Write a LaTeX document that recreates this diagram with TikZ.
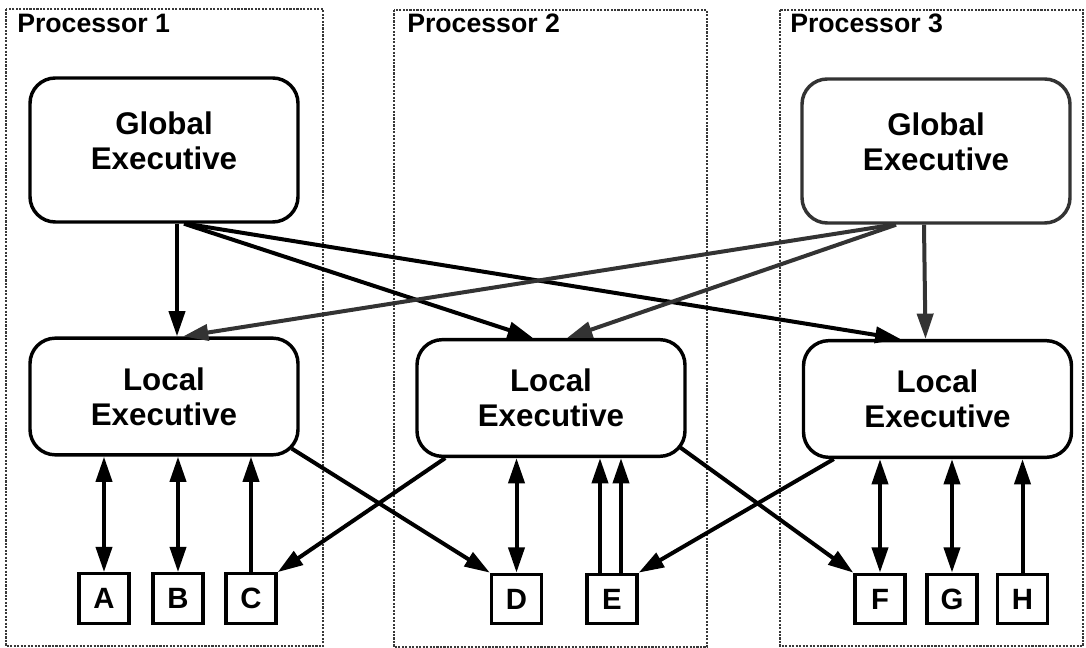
\documentclass[tikz,border=0pt]{standalone}
\usepackage{fontspec}
\setmainfont{Liberation Sans}
\usetikzlibrary{arrows.meta,calc}
\begin{document}
\begin{tikzpicture}[x=0.75pt,y=-0.75pt,
  proc/.style={draw=black!78, line width=1.6pt, densely dotted},
  proclabel/.style={font=\fontsize{20pt}{21pt}\selectfont\bfseries, anchor=west, inner sep=0pt},
  exec/.style={draw, line width=2.6pt, rounded corners=19pt, minimum width=201pt,
    align=center, font=\fontsize{23.5pt}{26pt}\selectfont\bfseries, inner sep=0pt},
  gexec/.style={exec, minimum height=108pt},
  lexec/.style={exec, minimum height=87.5pt},
  dev/.style={draw, line width=2.5pt, minimum width=37.5pt, minimum height=37pt, inner sep=0pt,
    font=\fontsize{22pt}{23pt}\selectfont\bfseries},
  tip/.tip={Triangle[length=19pt,width=12pt]},
  arr/.style={line width=3pt, -tip},
  darr/.style={line width=3pt, tip-tip},
  grey/.style={draw=black!80, color=black!80}
]
\useasboundingbox (0,0) rectangle (1086,648);

% processor boundaries
\draw[proc] (6,9) rectangle (323,646);
\draw[proc] (394,10) rectangle (707,647);
\draw[proc] (780,10) rectangle (1083,646);
\node[proclabel] (p1) at (17,23) {Processor 1};
\node[proclabel] (p2) at (407,23) {Processor 2};
\node[proclabel] (p3) at (790,23) {Processor 3};

% executives
\node[gexec] (ge1) at (164,150) {};
\node[exec, draw=none] (ge1t) at (164,141) {Global\\Executive};
\node[gexec, grey] (ge3) at (936,151) {};
\node[exec, draw=none] (ge3t) at (936,142) {Global\\Executive};
\node[lexec] (le1) at (164,396.5) {Local\\Executive};
\node[lexec] (le2) at (551,398) {Local\\Executive};
\node[lexec] (le3) at (937.5,399) {Local\\Executive};

% devices
\node[dev] (a) at (104,598.5) {A};
\node[dev] (b) at (178,598.5) {B};
\node[dev] (c) at (251,598.5) {C};
\node[dev] (d) at (516.5,599) {D};
\node[dev] (e) at (612,599) {E};
\node[dev] (f) at (880,599) {F};
\node[dev] (g) at (952,599) {G};
\node[dev] (h) at (1022.5,599) {H};

% global to local
\draw[arr] ($(ge1.south)+(13,0)$) -- ($(le1.north)+(13,0)$);
\draw[arr] ($(ge1.south)+(20,0)$) -- ($(le2.north)+(-18,0)$);
\draw[arr] ($(ge1.south)+(22,0)$) -- ($(le3.north)+(-37,0)$);
\draw[arr, grey] ($(ge3.south)+(-12,0)$) -- ($(le3.north)+(-12,0)$);
\draw[arr, grey] ($(ge3.south)+(-43,0)$) -- ($(le1.north)+(19,0)$);
\draw[arr, grey] ($(ge3.south)+(-40,0)$) -- ($(le2.north)+(16,0)$);

% local to devices
\draw[darr] (a.north) -- (a.north |- le1.south);
\draw[darr] (b.north) -- (b.north |- le1.south);
\draw[arr] (c.north) -- (c.north |- le1.south);
\draw[darr] (d.north) -- (d.north |- le2.south);
\draw[arr] ($(e.north)+(-12,0)$) -- ($(e.north |- le2.south)+(-12,0)$);
\draw[arr] ($(e.north)+(9,0)$) -- ($(e.north |- le2.south)+(9,0)$);
\draw[darr] (f.north) -- (f.north |- le3.south);
\draw[darr] (g.north) -- (g.north |- le3.south);
\draw[arr] (h.north) -- (h.north |- le3.south);

% cross links
\draw[arr] ($(le1.south east)+(-8,-8)$) -- (d.north west);
\draw[arr] ($(le2.south west)+(30,0)$) -- (c.north east);
\draw[arr] ($(le2.south east)+(-7,-11)$) -- (f.north west);
\draw[arr] ($(le3.south west)+(32,0)$) -- (e.north east);
\end{tikzpicture}
\end{document}
